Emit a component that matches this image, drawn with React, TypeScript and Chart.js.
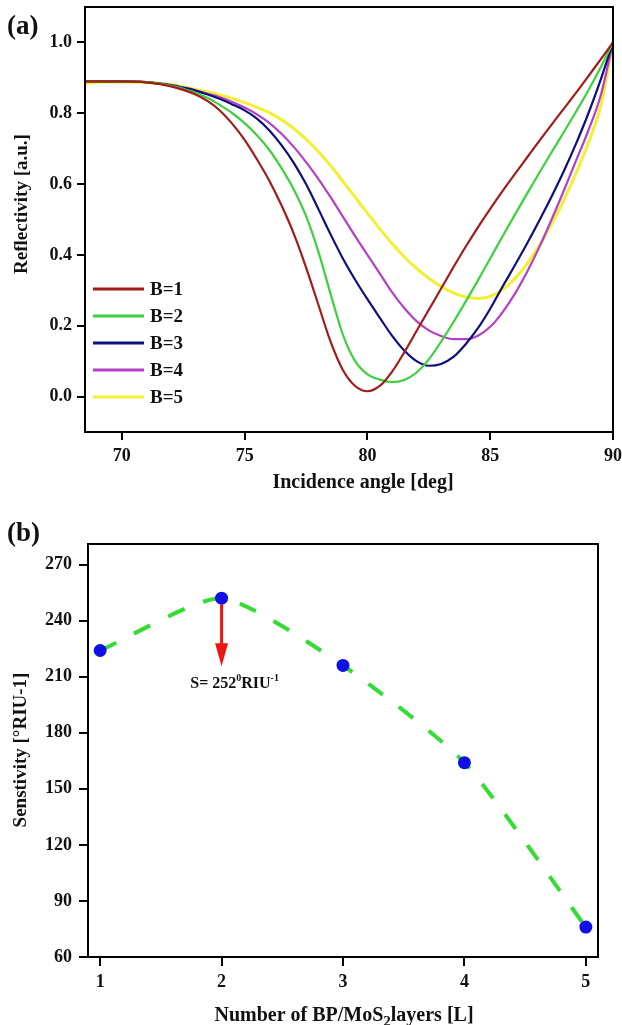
import { useEffect, useRef } from 'react';
import { Chart, registerables } from 'chart.js';

Chart.register(...registerables);

const FONT = '"Liberation Serif", "Times New Roman", Times, serif';

// ---------- (a) Reflectivity vs incidence angle ----------
const angleDeg = [68.5, 69, 70, 71, 72, 72.5, 73, 73.5, 74, 74.5, 75, 75.5, 76, 76.5, 77, 77.5, 78, 78.5, 79, 79.5, 80, 80.5, 81, 81.5, 82, 82.5, 83, 83.5, 84, 84.5, 85, 85.5, 86, 86.5, 87, 87.5, 88, 88.5, 89, 89.5, 90];
const reflB1 = [0.89, 0.89, 0.89, 0.887, 0.876, 0.866, 0.853, 0.834, 0.807, 0.77, 0.725, 0.67, 0.61, 0.54, 0.46, 0.365, 0.26, 0.155, 0.075, 0.03, 0.015, 0.03, 0.07, 0.125, 0.185, 0.245, 0.305, 0.365, 0.423, 0.478, 0.53, 0.58, 0.628, 0.675, 0.722, 0.768, 0.813, 0.858, 0.905, 0.952, 1.0];
const reflB2 = [0.89, 0.89, 0.89, 0.888, 0.878, 0.869, 0.858, 0.843, 0.823, 0.8, 0.772, 0.738, 0.697, 0.645, 0.585, 0.51, 0.41, 0.29, 0.175, 0.1, 0.063, 0.048, 0.041, 0.047, 0.068, 0.105, 0.155, 0.21, 0.268, 0.328, 0.39, 0.452, 0.513, 0.573, 0.632, 0.69, 0.747, 0.805, 0.865, 0.93, 1.0];
const reflB3 = [0.89, 0.89, 0.89, 0.888, 0.879, 0.872, 0.864, 0.853, 0.84, 0.825, 0.808, 0.785, 0.752, 0.71, 0.66, 0.6, 0.53, 0.458, 0.39, 0.33, 0.275, 0.223, 0.172, 0.13, 0.1, 0.087, 0.092, 0.112, 0.148, 0.193, 0.248, 0.31, 0.37, 0.432, 0.497, 0.565, 0.637, 0.715, 0.8, 0.895, 1.0];
const reflB4 = [0.89, 0.89, 0.89, 0.888, 0.88, 0.873, 0.865, 0.855, 0.845, 0.832, 0.816, 0.797, 0.773, 0.742, 0.705, 0.662, 0.615, 0.563, 0.508, 0.453, 0.4, 0.348, 0.295, 0.25, 0.213, 0.187, 0.171, 0.162, 0.162, 0.172, 0.197, 0.238, 0.29, 0.352, 0.422, 0.5, 0.582, 0.667, 0.752, 0.85, 1.0];
const reflB5 = [0.885, 0.887, 0.888, 0.887, 0.881, 0.875, 0.867, 0.86, 0.852, 0.842, 0.83, 0.817, 0.802, 0.782, 0.757, 0.727, 0.692, 0.652, 0.608, 0.563, 0.518, 0.474, 0.432, 0.395, 0.362, 0.334, 0.311, 0.293, 0.281, 0.277, 0.283, 0.302, 0.333, 0.375, 0.427, 0.487, 0.555, 0.632, 0.717, 0.82, 1.0];
const seriesLabelsA = ['B=1', 'B=2', 'B=3', 'B=4', 'B=5'];
const seriesColorsA = ['#a31b1b', '#3dd13d', '#0e0e7e', '#b540c8', '#f3f033'];
const xTicksA = [70, 75, 80, 85, 90];
const yTicksA = [0, 0.2, 0.4, 0.6, 0.8, 1.0];

// ---------- (b) Sensitivity vs number of layers ----------
const layersL = [1, 2, 3, 4, 5];
const sensitivityS = [224, 252, 216, 164, 76];
const xTicksB = [1, 2, 3, 4, 5];
const yTicksB = [60, 90, 120, 150, 180, 210, 240, 270];
const annotLayer = 2;
const annotValue = 252;

const tickFont = { family: FONT, size: 18, weight: 'bold' as const };

function axisCommon(tickLength: number) {
  return {
    grid: { display: true, drawOnChartArea: false, drawTicks: true, tickLength, color: '#000', lineWidth: 2 },
    border: { display: true, color: '#000', width: 2 },
  };
}

const decorA = {
  id: 'decorA',
  afterDraw(chart: any) {
    const { ctx, chartArea: ca } = chart;
    ctx.save();
    ctx.strokeStyle = '#000';
    ctx.lineWidth = 2;
    ctx.strokeRect(ca.left, ca.top, ca.right - ca.left, ca.bottom - ca.top);
    // legend
    ctx.font = `bold 19px ${FONT}`;
    ctx.textBaseline = 'middle';
    ctx.textAlign = 'left';
    chart.data.datasets.forEach((ds: any, i: number) => {
      const y = ca.top + 282 + i * 27;
      ctx.strokeStyle = ds.borderColor;
      ctx.lineWidth = 3;
      ctx.beginPath();
      ctx.moveTo(ca.left + 8, y);
      ctx.lineTo(ca.left + 59, y);
      ctx.stroke();
      ctx.fillStyle = '#111';
      ctx.fillText(ds.label, ca.left + 65, y + 1);
    });
    // titles
    ctx.fillStyle = '#111';
    ctx.textAlign = 'center';
    ctx.font = `bold 20px ${FONT}`;
    ctx.fillText('Incidence angle [deg]', 363, 483);
    ctx.save();
    ctx.translate(22, 204);
    ctx.rotate(-Math.PI / 2);
    ctx.font = `bold 19px ${FONT}`;
    ctx.fillText('Reflectivity [a.u.]', 0, 0);
    ctx.restore();
    ctx.font = `bold 27px ${FONT}`;
    ctx.textAlign = 'left';
    ctx.fillText('(a)', 7, 27);
    ctx.restore();
  },
};

const decorB = {
  id: 'decorB',
  afterDraw(chart: any) {
    const { ctx, chartArea: ca, scales } = chart;
    ctx.save();
    ctx.strokeStyle = '#000';
    ctx.lineWidth = 2;
    ctx.strokeRect(ca.left, ca.top, ca.right - ca.left, ca.bottom - ca.top);

    // arrow annotation
    const px = scales.x.getPixelForValue(annotLayer);
    const py = scales.y.getPixelForValue(annotValue);
    ctx.fillStyle = '#ee1515';
    ctx.strokeStyle = '#ee1515';
    ctx.lineWidth = 3;
    ctx.beginPath();
    ctx.moveTo(px, py + 6);
    ctx.lineTo(px, py + 47);
    ctx.stroke();
    ctx.beginPath();
    ctx.moveTo(px - 6.5, py + 45);
    ctx.lineTo(px + 6.5, py + 45);
    ctx.lineTo(px, py + 68);
    ctx.closePath();
    ctx.fill();

    // annotation text  S= 252^0 RIU^-1
    ctx.fillStyle = '#111';
    ctx.textBaseline = 'alphabetic';
    ctx.textAlign = 'left';
    const big = `bold 16px ${FONT}`;
    const small = `bold 10px ${FONT}`;
    const parts: [string, string, number][] = [
      ['S= 252', big, 0],
      ['0', small, -7],
      ['RIU', big, 0],
      ['-1', small, -7],
    ];
    let total = 0;
    parts.forEach(([t, f]) => { ctx.font = f; total += ctx.measureText(t).width; });
    let tx = px + 13 - total / 2;
    const ty = py + 90;
    parts.forEach(([t, f, dy]) => {
      ctx.font = f;
      ctx.fillText(t, tx, ty + dy);
      tx += ctx.measureText(t).width;
    });

    // x title with subscript
    const t1 = 'Number of BP/MoS';
    const t2 = '2';
    const t3 = 'layers [L]';
    const f1 = `bold 20px ${FONT}`;
    const f2 = `bold 15px ${FONT}`;
    ctx.font = f1; const w1 = ctx.measureText(t1).width; const w3 = ctx.measureText(t3).width;
    ctx.font = f2; const w2 = ctx.measureText(t2).width;
    let sx = 344 - (w1 + w2 + w3) / 2;
    const sy = 521;
    ctx.font = f1; ctx.fillText(t1, sx, sy); sx += w1;
    ctx.font = f2; ctx.fillText(t2, sx, sy + 5); sx += w2;
    ctx.font = f1; ctx.fillText(t3, sx, sy);

    // y title
    ctx.save();
    ctx.translate(21, 250);
    ctx.rotate(-Math.PI / 2);
    ctx.textAlign = 'center';
    ctx.textBaseline = 'middle';
    ctx.font = `bold 19px ${FONT}`;
    ctx.fillText('Senstivity [\u00B0RIU-1]', 0, 0);
    ctx.restore();

    ctx.font = `bold 27px ${FONT}`;
    ctx.textAlign = 'left';
    ctx.textBaseline = 'middle';
    ctx.fillText('(b)', 7, 34);
    ctx.restore();
  },
};

export default function App() {
  const refA = useRef<HTMLCanvasElement>(null);
  const refB = useRef<HTMLCanvasElement>(null);

  useEffect(() => {
    const seriesA = [reflB1, reflB2, reflB3, reflB4, reflB5];
    const chartA = new Chart(refA.current as HTMLCanvasElement, {
      type: 'line',
      data: {
        datasets: seriesA.map((vals, i) => ({
          label: seriesLabelsA[i],
          data: angleDeg.map((x, j) => ({ x, y: vals[j] })),
          borderColor: seriesColorsA[i],
          backgroundColor: seriesColorsA[i],
          borderWidth: i === 4 ? 3 : 2.2,
          pointRadius: 0,
          cubicInterpolationMode: 'monotone' as const,
          fill: false,
        })),
      },
      options: {
        animation: false,
        responsive: false,
        maintainAspectRatio: false,
        layout: { padding: { top: 7, right: 9, left: 0, bottom: 0 } },
        plugins: { legend: { display: false }, tooltip: { enabled: false } },
        scales: {
          x: {
            type: 'linear',
            min: 68.5,
            max: 90,
            ...axisCommon(8),
            afterBuildTicks: (s: any) => { s.ticks = xTicksA.map((v) => ({ value: v })); },
            afterFit: (s: any) => { s.height = 68; s.paddingLeft = 0; s.paddingRight = 0; },
            ticks: { font: tickFont, color: '#111', padding: 6, maxRotation: 0, callback: (v: any) => String(v) },
          },
          y: {
            type: 'linear',
            min: -0.1,
            max: 1.1,
            ...axisCommon(8),
            afterBuildTicks: (s: any) => { s.ticks = yTicksA.map((v) => ({ value: v })); },
            afterFit: (s: any) => { s.width = 85; s.paddingTop = 0; s.paddingBottom = 0; },
            ticks: { font: tickFont, color: '#111', padding: 5, callback: (v: any) => Number(v).toFixed(1) },
          },
        },
      },
      plugins: [decorA],
    } as any);

    const chartB = new Chart(refB.current as HTMLCanvasElement, {
      type: 'line',
      data: {
        datasets: [
          {
            label: 'Sensitivity',
            data: layersL.map((x, i) => ({ x, y: sensitivityS[i] })),
            borderColor: '#33dd33',
            borderWidth: 4,
            borderDash: [18, 20],
            tension: 0.2,
            pointRadius: 6.5,
            pointBackgroundColor: '#1010e6',
            pointBorderColor: '#1010e6',
            pointBorderWidth: 0,
            fill: false,
          },
        ],
      },
      options: {
        animation: false,
        responsive: false,
        maintainAspectRatio: false,
        layout: { padding: { top: 44, right: 24, left: 0, bottom: 0 } },
        plugins: { legend: { display: false }, tooltip: { enabled: false } },
        scales: {
          x: {
            type: 'linear',
            min: 0.9,
            max: 5.1,
            ...axisCommon(9),
            afterBuildTicks: (s: any) => { s.ticks = xTicksB.map((v) => ({ value: v })); },
            afterFit: (s: any) => { s.height = 68; s.paddingLeft = 0; s.paddingRight = 0; },
            ticks: { font: tickFont, color: '#111', padding: 6, maxRotation: 0, callback: (v: any) => String(v) },
          },
          y: {
            type: 'linear',
            min: 60,
            max: 281,
            ...axisCommon(9),
            afterBuildTicks: (s: any) => { s.ticks = yTicksB.map((v) => ({ value: v })); },
            afterFit: (s: any) => { s.width = 88; s.paddingTop = 0; s.paddingBottom = 0; },
            ticks: { font: tickFont, color: '#111', padding: 7, callback: (v: any) => String(v) },
          },
        },
      },
      plugins: [decorB],
    } as any);

    return () => {
      chartA.destroy();
      chartB.destroy();
    };
  }, []);

  return (
    <div style={{ position: 'absolute', left: 0, top: 0, width: 622, height: 1025, background: '#fff' }}>
      <canvas ref={refA} width={622} height={500} style={{ position: 'absolute', left: 0, top: 0, width: 622, height: 500, display: 'block' }} />
      <canvas ref={refB} width={622} height={525} style={{ position: 'absolute', left: 0, top: 500, width: 622, height: 525, display: 'block' }} />
    </div>
  );
}
